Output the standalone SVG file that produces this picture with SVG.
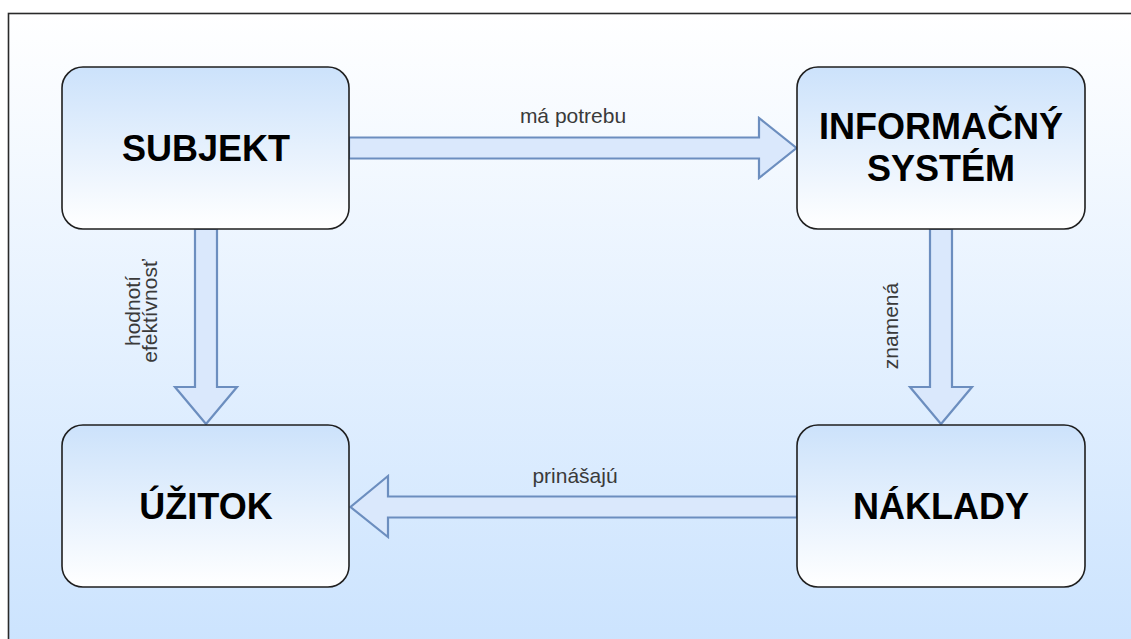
<svg xmlns="http://www.w3.org/2000/svg" width="1131" height="639" viewBox="0 0 1131 639">
  <defs>
    <linearGradient id="bgGrad" x1="0" y1="0" x2="0" y2="1">
      <stop offset="0" stop-color="#ffffff"/>
      <stop offset="1" stop-color="#cbe3fe"/>
    </linearGradient>
    <linearGradient id="boxGrad" x1="0" y1="0" x2="0" y2="1">
      <stop offset="0" stop-color="#cce2fb"/>
      <stop offset="1" stop-color="#ffffff"/>
    </linearGradient>
    <style>
      .box { fill: url(#boxGrad); stroke: #1f1f1f; stroke-width: 1.6; }
      .title { font-family: "Liberation Sans", Arial, sans-serif; font-weight: bold; font-size: 36px; fill: #000; text-anchor: middle; }
      .arrow { fill: #dae8fc; stroke: #6c8ebf; stroke-width: 2.2; stroke-linejoin: miter; }
      .lbl { font-family: "Liberation Sans", Arial, sans-serif; font-size: 21px; fill: #3a3a3a; text-anchor: middle; }
    </style>
  </defs>

  <rect x="0" y="0" width="1131" height="639" fill="#ffffff"/>
  <!-- framed canvas -->
  <rect x="8.5" y="13.5" width="1135" height="640" fill="url(#bgGrad)" stroke="#2a2a2a" stroke-width="1.6"/>

  <g id="connectors">
    <!-- má potrebu -->
    <path class="arrow" d="M349,137.5 L759,137.5 L759,118 L796.5,148 L759,178 L759,158.5 L349,158.5 Z"/>
    <text class="lbl" x="573" y="123">má potrebu</text>
    <!-- hodnotí efektívnosť -->
    <path class="arrow" d="M195,229 L195,387 L175,387 L206,424 L237,387 L217,387 L217,229 Z"/>
    <text class="lbl" transform="translate(140,311) rotate(-90)"><tspan x="0" y="0">hodnotí</tspan><tspan x="0" y="17">efektívnosť</tspan></text>
    <!-- znamená -->
    <path class="arrow" d="M930,229 L930,387 L910,387 L941,424 L972,387 L952,387 L952,229 Z"/>
    <text class="lbl" transform="translate(898,326) rotate(-90)" x="0" y="0">znamená</text>
    <!-- prinášajú -->
    <path class="arrow" d="M797,496.5 L388,496.5 L388,476 L350.5,507 L388,537 L388,517.5 L797,517.5 Z"/>
    <text class="lbl" x="575" y="483">prinášajú</text>
  </g>

  <g id="subjekt">
    <rect class="box" x="62" y="67" width="287" height="162" rx="21"/>
    <text class="title" x="206" y="161">SUBJEKT</text>
  </g>
  <g id="informacny-system">
    <rect class="box" x="797" y="67" width="288" height="162" rx="21"/>
    <text class="title" x="941" y="139">INFORMAČNÝ</text>
    <text class="title" x="941" y="181">SYSTÉM</text>
  </g>
  <g id="uzitok">
    <rect class="box" x="62" y="425" width="287" height="162" rx="21"/>
    <text class="title" x="206" y="519">ÚŽITOK</text>
  </g>
  <g id="naklady">
    <rect class="box" x="797" y="425" width="288" height="162" rx="21"/>
    <text class="title" x="941" y="519">NÁKLADY</text>
  </g>
</svg>
